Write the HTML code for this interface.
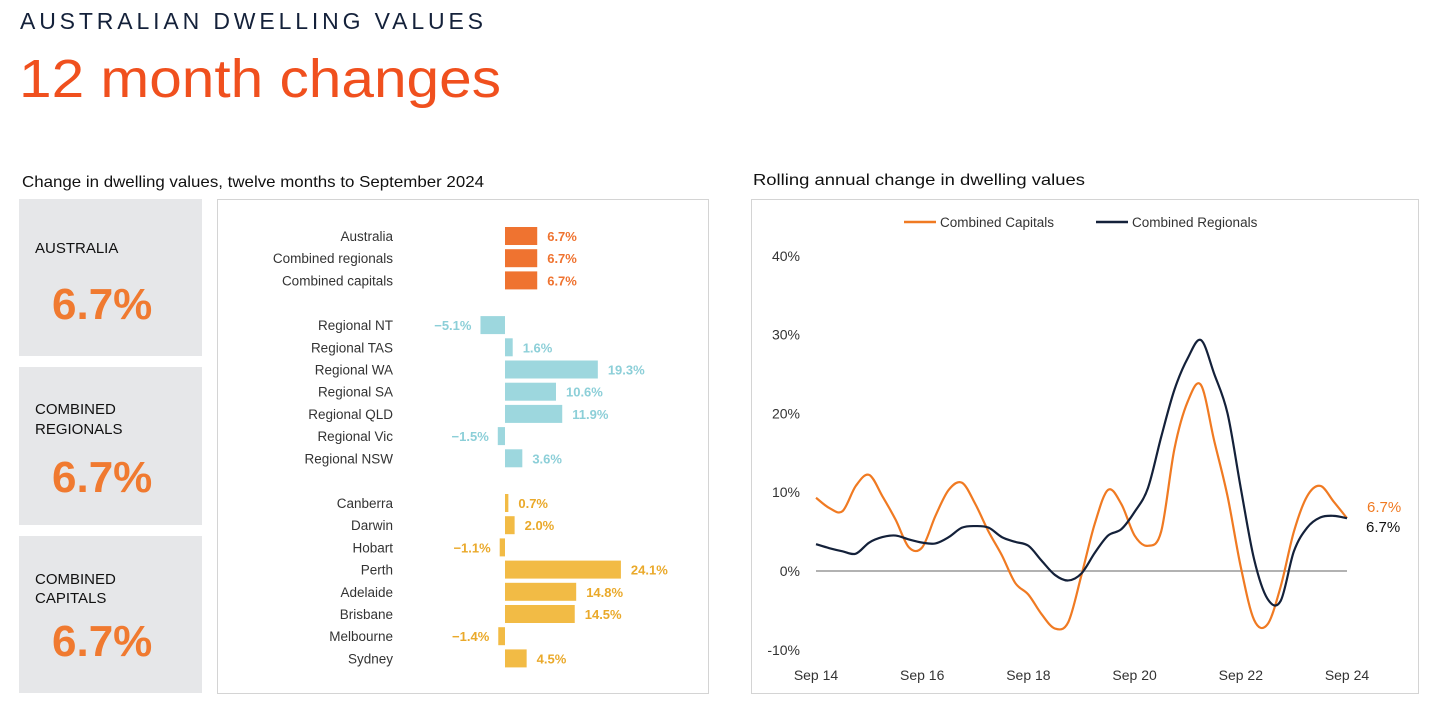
<!DOCTYPE html>
<html><head><meta charset="utf-8">
<style>
html,body{margin:0;padding:0;background:#fff;}
svg{display:block;font-family:"Liberation Sans",sans-serif;}
</style></head>
<body>
<svg id="root" width="1456" height="725" viewBox="0 0 1456 725">
  <text x="20" y="29" font-size="23" fill="#14213a" textLength="463" lengthAdjust="spacing">AUSTRALIAN DWELLING VALUES</text>
  <text x="19" y="97" font-size="54" fill="#f0501e" textLength="482" lengthAdjust="spacingAndGlyphs">12 month changes</text>
  <text x="22" y="187" font-size="16" fill="#111" textLength="462" lengthAdjust="spacingAndGlyphs">Change in dwelling values, twelve months to September 2024</text>
  <text x="753" y="185" font-size="16" fill="#111" textLength="332" lengthAdjust="spacingAndGlyphs">Rolling annual change in dwelling values</text>

  <g>
    <rect x="19" y="199" width="183" height="157" fill="#e6e7e9"/>
    <text x="35" y="253" font-size="15" fill="#111">AUSTRALIA</text>
    <text x="52" y="319" font-size="44" font-weight="bold" fill="#f07a30">6.7%</text>
    <rect x="19" y="367" width="183" height="158" fill="#e6e7e9"/>
    <text x="35" y="414" font-size="15" fill="#111">COMBINED</text>
    <text x="35" y="434" font-size="15" fill="#111">REGIONALS</text>
    <text x="52" y="492" font-size="44" font-weight="bold" fill="#f07a30">6.7%</text>
    <rect x="19" y="536" width="183" height="157" fill="#e6e7e9"/>
    <text x="35" y="584" font-size="15" fill="#111">COMBINED</text>
    <text x="35" y="603" font-size="15" fill="#111">CAPITALS</text>
    <text x="52" y="656" font-size="44" font-weight="bold" fill="#f07a30">6.7%</text>
  </g>

  <rect x="217.5" y="199.5" width="491" height="494" fill="none" stroke="#d4d4d4"/>
  <g id="bars"></g>

  <rect x="751.5" y="199.5" width="667" height="494" fill="none" stroke="#d4d4d4"/>
  <g>
    <line x1="904" y1="222" x2="936" y2="222" stroke="#f07a22" stroke-width="2.5"/>
    <text x="940" y="227" font-size="13.5" fill="#333">Combined Capitals</text>
    <line x1="1096" y1="222" x2="1128" y2="222" stroke="#14213a" stroke-width="2.5"/>
    <text x="1132" y="227" font-size="13.5" fill="#333">Combined Regionals</text>
  </g>
  <g id="lines"></g>
</svg>
<script>
const NS='http://www.w3.org/2000/svg';
// ---- bar chart data ----
const barCategories=['Australia','Combined regionals','Combined capitals','Regional NT','Regional TAS','Regional WA','Regional SA','Regional QLD','Regional Vic','Regional NSW','Canberra','Darwin','Hobart','Perth','Adelaide','Brisbane','Melbourne','Sydney'];
const barValues=[6.7,6.7,6.7,-5.1,1.6,19.3,10.6,11.9,-1.5,3.6,0.7,2.0,-1.1,24.1,14.8,14.5,-1.4,4.5];
const barGroups=[0,0,0,1,1,1,1,1,1,1,2,2,2,2,2,2,2,2];
// ---- line chart data (quarterly, Sep 14 to Sep 24) ----
const capitalsSeries=[9.3,8.0,7.6,10.8,12.2,9.5,6.5,3.0,3.0,7.0,10.3,11.2,8.5,5.0,2.0,-1.5,-3.0,-5.5,-7.3,-6.5,-0.5,6.0,10.3,8.5,4.5,3.2,5.0,15.5,21.5,23.6,16.5,9.5,0.5,-6.2,-6.8,-2.0,5.0,9.5,10.8,8.8,6.7];
const regionalsSeries=[3.4,2.9,2.5,2.2,3.6,4.3,4.5,4.0,3.6,3.5,4.3,5.5,5.7,5.5,4.3,3.7,3.2,1.3,-0.5,-1.2,-0.3,2.3,4.5,5.3,7.5,10.5,17.0,23.0,27.0,29.3,25.0,20.0,10.5,1.5,-3.5,-3.8,2.5,5.5,6.8,7.0,6.7];
const yTicks=[40,30,20,10,0,-10];
const xTickLabels=['Sep 14','Sep 16','Sep 18','Sep 20','Sep 22','Sep 24'];

function el(tag,attrs,parent,text){const e=document.createElementNS(NS,tag);for(const k in attrs)e.setAttribute(k,attrs[k]);if(text!==undefined)e.textContent=text;parent.appendChild(e);return e;}

// bars
const bg=document.getElementById('bars');
const barFill=['#ef7330','#9dd7de','#f2bb45'];
const labFill=['#ef7330','#8ccfd8','#eaa92a'];
const xz=505, pxPer=4.81;
function bx(v){return xz+v*pxPer;}
function rowY(i){const g=barGroups[i];return 236+i*22.2+g*22.5;}
barCategories.forEach((c,i)=>{
  const v=barValues[i], y=rowY(i), g=barGroups[i];
  const t=el('text',{x:393,y:y+5,'font-size':13.5,fill:'#333','text-anchor':'end'},bg,c);
  
  
  const x0=Math.min(bx(0),bx(v)), w=Math.abs(bx(v)-bx(0));
  const r=el('rect',{x:x0,y:y-9,width:Math.max(w,1),height:18,fill:barFill[g]},bg);
  
  
  const s=(v<0?'\u2212':'')+Math.abs(v).toFixed(1)+'%';
  const vt=el('text',{x:v<0?bx(v)-9:bx(v)+10,y:y+5,'font-size':13,'font-weight':'bold',fill:labFill[g],'text-anchor':v<0?'end':'start'},bg,s);
  
  
});

// lines
const lg=document.getElementById('lines');
const x0=816,x1=1347,y0=571,pxPct=7.88;
const n=capitalsSeries.length;
function X(i){return x0+(x1-x0)*i/(n-1);}
function Y(v){return y0-v*pxPct;}
yTicks.forEach(t=>{
  const tt=el('text',{x:800,y:Y(t)+5,'font-size':14,fill:'#333','text-anchor':'end'},lg,t+'%');
  
  
});
xTickLabels.forEach((l,i)=>{
  const tt=el('text',{x:x0+(x1-x0)*i/(xTickLabels.length-1),y:680,'font-size':14,fill:'#333','text-anchor':'middle'},lg,l);
  
  
});
const zl=el('line',{x1:x0,x2:x1,y1:Y(0),y2:Y(0),stroke:'#999','stroke-width':1.5},lg);


function path(arr){
  const p=arr.map((v,i)=>[X(i),Y(v)]);
  let d='M'+p[0][0]+','+p[0][1];
  for(let i=0;i<p.length-1;i++){
    const a=p[i-1]||p[i],b=p[i],c=p[i+1],e=p[i+2]||c;
    d+=` C${b[0]+(c[0]-a[0])/6},${b[1]+(c[1]-a[1])/6} ${c[0]-(e[0]-b[0])/6},${c[1]-(e[1]-b[1])/6} ${c[0]},${c[1]}`;
  }
  return d;
}
const cp=el('path',{d:path(capitalsSeries),fill:'none',stroke:'#f07a22','stroke-width':2.2},lg);


const rp=el('path',{d:path(regionalsSeries),fill:'none',stroke:'#14213a','stroke-width':2.2},lg);


const lastC=capitalsSeries[n-1], lastR=regionalsSeries[n-1];
const ec=el('text',{x:1367,y:Y(lastC)-6,'font-size':15,fill:'#f07a22'},lg,lastC.toFixed(1)+'%');


const er=el('text',{x:1366,y:Y(lastR)+14,'font-size':15,fill:'#111'},lg,lastR.toFixed(1)+'%');


</script>
</body></html>
